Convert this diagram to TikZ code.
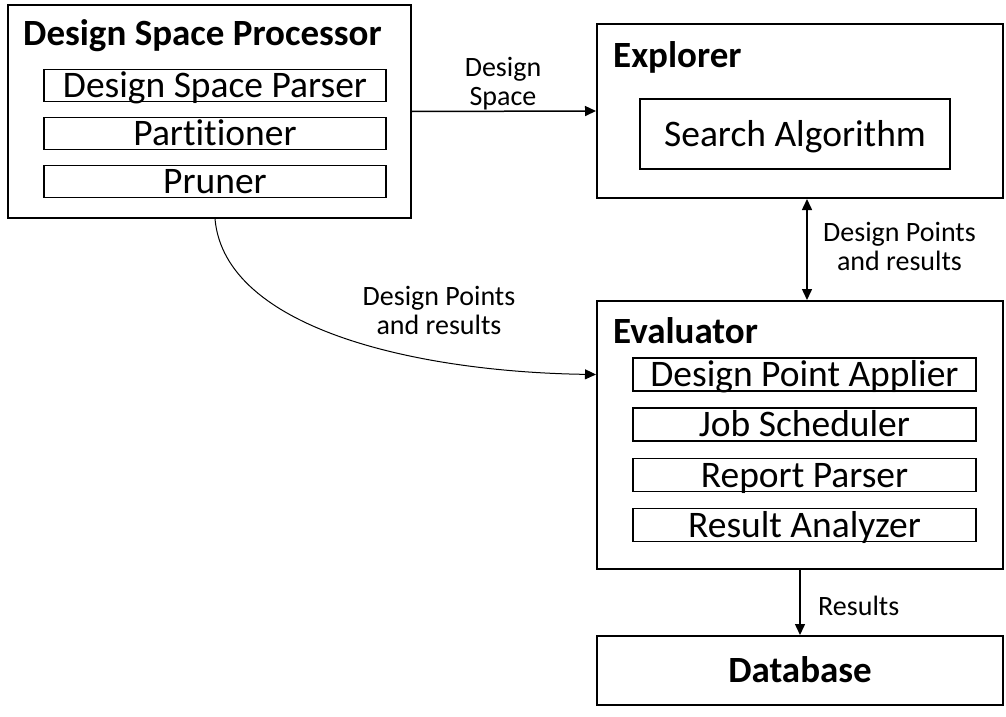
\documentclass[tikz,border=0pt]{standalone}
\usepackage{fontspec}
\setmainfont{Carlito}[Ligatures={NoCommon}]
\usetikzlibrary{arrows.meta}
\begin{document}
\begin{tikzpicture}[x=1pt,y=-1pt,
  outer/.style={draw,line width=2pt,inner sep=0pt,text height=24pt,text depth=0pt,
    font=\bfseries\fontsize{37}{40}\selectfont},
  inbox/.style={draw,line width=1.8pt,inner sep=0pt,text height=24pt,text depth=0pt,
    font=\fontsize{37.5}{40}\selectfont},
  ttl/.style={inner sep=0pt,anchor=base west,font=\bfseries\fontsize{37}{40}\selectfont},
  lbl/.style={inner sep=0pt,align=center,anchor=base,font=\fontsize{28}{29}\selectfont},
  tip/.style={line width=1.5pt,-{Triangle[length=11pt,width=10pt]}},
  dtip/.style={line width=1.5pt,{Triangle[length=11pt,width=10pt]}-{Triangle[length=11pt,width=10pt]}},
]
\useasboundingbox (0,0) rectangle (1006,717);

% Design Space Processor
\node[outer,minimum width=403pt,minimum height=213pt] (dsp) at (209.5,111.5) {};
\node[ttl] (dspt) at (23,46) {Design Space Processor};
\node[inbox,minimum width=342pt,minimum height=32pt] (dsparser) at (215,85.5) {Design Space Parser};
\node[inbox,minimum width=342pt,minimum height=32pt] (part) at (215,133.5) {Partitioner};
\node[inbox,minimum width=342pt,minimum height=32pt] (prun) at (215,181.5) {Pruner};

% Explorer
\node[outer,minimum width=406pt,minimum height=174pt] (exp) at (800,111) {};
\node[ttl] (expt) at (613,67) {Explorer};
\node[inbox,minimum width=310pt,minimum height=70pt] (search) at (795,134) {Search Algorithm};

% Evaluator
\node[outer,minimum width=406pt,minimum height=268pt] (eva) at (800,435) {};
\node[ttl] (evat) at (613,343) {Evaluator};
\node[inbox,minimum width=343pt,minimum height=33pt] (dpa) at (804.5,374.5) {Design Point Applier};
\node[inbox,minimum width=343pt,minimum height=33pt] (js) at (804.5,424.5) {Job Scheduler};
\node[inbox,minimum width=343pt,minimum height=33pt] (rp) at (804.5,475) {Report Parser};
\node[inbox,minimum width=343pt,minimum height=33pt] (ra) at (804.5,525) {Result Analyzer};

% Database
\node[outer,minimum width=406pt,minimum height=69pt] (db) at (800,670.5) {Database};

% connectors
\draw[tip] (dsp.east) -- (exp.west);
\node[lbl] (l1) at (503,105) {Design\\Space};

\draw[dtip] ([xshift=7pt]exp.south) -- ([xshift=7pt]eva.north);
\node[lbl] (l2) at (899.5,270) {Design Points\\and results};

\draw[line width=1pt,-{Triangle[length=11pt,width=10pt]}]
  ([xshift=5.5pt]dsp.south) .. controls (225,330) and (420,372) .. (eva.west |- dpa);
\node[lbl] (l3) at (439,334) {Design Points\\and results};

\draw[tip] (eva.south) -- (db.north);
\node[lbl,anchor=base west] (l4) at (818,615) {Results};
\end{tikzpicture}
\end{document}
